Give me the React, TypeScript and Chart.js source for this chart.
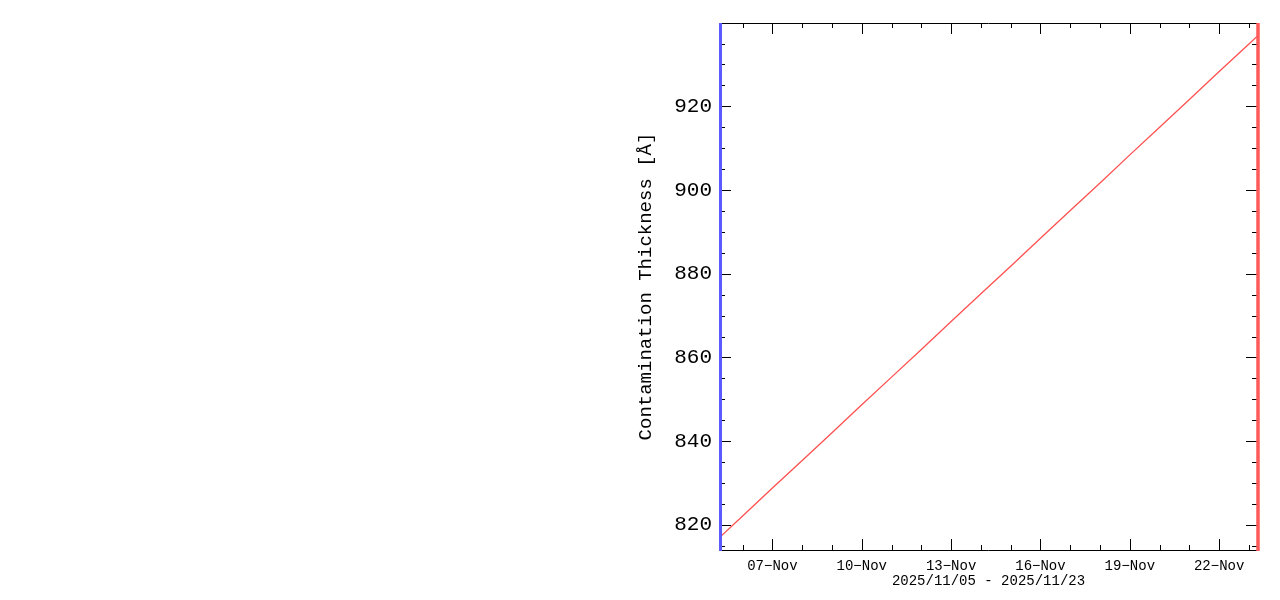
import React, { useEffect, useRef } from "react";
import { Chart, registerables } from "chart.js";

Chart.register(...registerables);

// Day of November 2025 (fractional) and contamination thickness [Å]
const days = [5.24, 6, 7, 8, 9, 10, 11, 12, 13, 14, 15, 16, 17, 18, 19, 20, 21, 22, 23, 23.27];
const thickness = [817.1, 822.1, 828.8, 835.4, 842.0, 848.7, 855.3, 861.9, 868.6, 875.2, 881.8, 888.5, 895.1, 901.7, 908.4, 915.0, 921.6, 928.3, 934.9, 936.7];

const xMin = 5.24;
const xMax = 23.27;
const yMin = 814.0;
const yMax = 939.9;

const xTicks = [6, 7, 8, 9, 10, 11, 12, 13, 14, 15, 16, 17, 18, 19, 20, 21, 22, 23];
const xMajorTicks = [7, 10, 13, 16, 19, 22];
const yTicks = [815, 820, 825, 830, 835, 840, 845, 850, 855, 860, 865, 870, 875, 880, 885, 890, 895, 900, 905, 910, 915, 920, 925, 930, 935];
const yMajorTicks = [820, 840, 860, 880, 900, 920];

const yTitle = "Contamination Thickness [Å]";
const xTitle = "2025/11/05 - 2025/11/23";
const monthLabel = "Nov";

const FONT = "'Liberation Mono', 'DejaVu Sans Mono', monospace";

const framePlugin = {
  id: "frame",
  afterDraw(chart: any) {
    const { ctx, chartArea } = chart;
    const { left, right, top, bottom } = chartArea;
    const xs = chart.scales.x;
    const ys = chart.scales.y;
    ctx.save();
    ctx.strokeStyle = "#000";
    ctx.lineWidth = 1;
    ctx.beginPath();
    ctx.moveTo(left, Math.round(top) + 0.5);
    ctx.lineTo(right, Math.round(top) + 0.5);
    ctx.moveTo(left, Math.round(bottom) + 0.5);
    ctx.lineTo(right, Math.round(bottom) + 0.5);
    for (const t of xTicks) {
      const px = Math.round(xs.getPixelForValue(t)) + 0.5;
      const len = xMajorTicks.includes(t) ? 11 : 5;
      ctx.moveTo(px, top);
      ctx.lineTo(px, top + len);
      ctx.moveTo(px, bottom);
      ctx.lineTo(px, bottom - len);
    }
    for (const t of yTicks) {
      const py = Math.round(ys.getPixelForValue(t)) + 0.5;
      const len = yMajorTicks.includes(t) ? 11 : 5;
      ctx.moveTo(left, py);
      ctx.lineTo(left + len, py);
      ctx.moveTo(right, py);
      ctx.lineTo(right - len, py);
    }
    ctx.stroke();
    ctx.lineWidth = 3;
    ctx.strokeStyle = "#5a5aff";
    ctx.beginPath();
    ctx.moveTo(left + 0.5, top);
    ctx.lineTo(left + 0.5, bottom + 1);
    ctx.stroke();
    ctx.lineWidth = 3.5;
    ctx.strokeStyle = "#ff5a5a";
    ctx.beginPath();
    ctx.moveTo(right + 1, top);
    ctx.lineTo(right + 1, bottom + 1);
    ctx.stroke();
    ctx.restore();
  },
};

export default function App() {
  const ref = useRef<HTMLCanvasElement>(null);
  useEffect(() => {
    if (!ref.current) return;
    const chart = new Chart(ref.current, {
      type: "line",
      data: {
        datasets: [
          {
            data: days.map((d, i) => ({ x: d, y: thickness[i] })),
            borderColor: "#ff5050",
            borderWidth: 1.3,
            pointRadius: 0,
            tension: 0,
          },
        ],
      },
      options: {
        responsive: false,
        animation: false,
        layout: { padding: { left: 630, right: 23, top: 23, bottom: 0 } },
        plugins: { legend: { display: false }, tooltip: { enabled: false } },
        scales: {
          x: {
            type: "linear",
            min: xMin,
            max: xMax,
            afterBuildTicks: (s: any) => {
              s.ticks = xTicks.map((v) => ({ value: v }));
            },
            afterFit: (s: any) => {
              s.height = 50;
            },
            grid: { display: false, drawTicks: false },
            border: { display: false },
            ticks: {
              autoSkip: false,
              maxRotation: 0,
              padding: 8,
              color: "#000",
              font: { family: FONT, size: 14 },
              callback: (v: any) =>
                xMajorTicks.includes(Number(v)) ? String(v).padStart(2, "0") + "−" + monthLabel : "",
            },
            title: {
              display: true,
              text: xTitle,
              color: "#000",
              font: { family: FONT, size: 14 },
              padding: { top: 0, bottom: 10 },
            },
          },
          y: {
            type: "linear",
            min: yMin,
            max: yMax,
            afterBuildTicks: (s: any) => {
              s.ticks = yTicks.map((v) => ({ value: v }));
            },
            afterFit: (s: any) => {
              s.width = 90;
            },
            grid: { display: false, drawTicks: false },
            border: { display: false },
            ticks: {
              autoSkip: false,
              padding: 8,
              color: "#000",
              font: { family: FONT, size: 21 },
              callback: (v: any) => (yMajorTicks.includes(Number(v)) ? String(v) : ""),
            },
            title: {
              display: true,
              text: yTitle,
              color: "#000",
              font: { family: FONT, size: 19 },
              padding: { top: 5, bottom: 0 },
            },
          },
        },
      },
      plugins: [framePlugin],
    });
    return () => chart.destroy();
  }, []);
  return (
    <div style={{ position: "absolute", left: 0, top: 0, width: 1280, height: 600, background: "#fff" }}>
      <canvas ref={ref} width={1280} height={600} />
    </div>
  );
}
